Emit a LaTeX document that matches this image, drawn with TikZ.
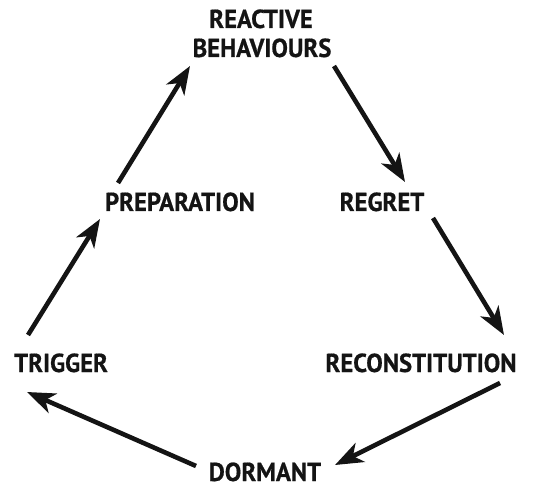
\documentclass[tikz,border=0pt]{standalone}
\usepackage{fontspec}
\setmainfont{PT Sans}[FakeStretch=0.95,FakeBold=0.6]
\usetikzlibrary{arrows.meta}
\definecolor{ink}{HTML}{141414}
\tikzset{
  lbl/.style={anchor=base, inner sep=0pt, font=\fontsize{26}{28}\selectfont\bfseries, text=ink},
  arr/.style={line width=4.6pt, draw=ink, -{Stealth[length=28pt,width=21pt,inset=8pt]}}
}
\begin{document}
\begin{tikzpicture}[x=1pt,y=-1pt]
\useasboundingbox (0,0) rectangle (548,486);
\node[lbl] (react) at (261,28) {REACTIVE};
\node[lbl] (beh) at (262,57) {BEHAVIOURS};
\node[lbl] (prep) at (180,211) {PREPARATION};
\node[lbl] (regret) at (382,211) {REGRET};
\node[lbl] (trig) at (61,372) {TRIGGER};
\node[lbl] (recon) at (421,372) {RECONSTITUTION};
\node[lbl] (dorm) at (265,481) {DORMANT};
\draw[arr] ([shift={(-62,-28)}]prep.base) -- ([shift={(-72,9)}]beh.base);
\draw[arr] ([shift={(72,9)}]beh.base) -- ([shift={(23,-29)}]regret.base);
\draw[arr] ([shift={(51,7)}]regret.base) -- ([shift={(83,-37)}]recon.base);
\draw[arr] ([shift={(79,11)}]recon.base) -- ([shift={(70,-16)}]dorm.base);
\draw[arr] ([shift={(-69,-15)}]dorm.base) -- ([shift={(-34,20)}]trig.base);
\draw[arr] ([shift={(-33,-37)}]trig.base) -- ([shift={(-80,8)}]prep.base);
\end{tikzpicture}
\end{document}
